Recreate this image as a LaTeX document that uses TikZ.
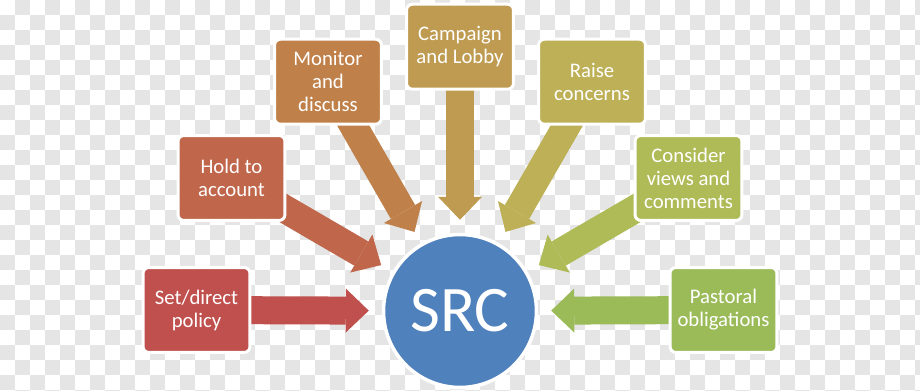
\documentclass[tikz,border=0pt]{standalone}
\usepackage{fontspec}
\setmainfont{Carlito}
\usepackage{tikz}
\usetikzlibrary{arrows.meta}
\definecolor{boardgrey}{RGB}{229,229,229}
\definecolor{srcblue}{RGB}{79,129,189}
\definecolor{setred}{RGB}{192,80,77}
\definecolor{holdrust}{RGB}{192,102,75}
\definecolor{monitororange}{RGB}{192,128,74}
\definecolor{campaigngold}{RGB}{190,155,80}
\definecolor{raiseolive}{RGB}{190,176,86}
\definecolor{considerlime}{RGB}{174,187,86}
\definecolor{pastoralgreen}{RGB}{155,187,89}
\pgfdeclarelayer{board}
\pgfdeclarelayer{links}
\pgfsetlayers{board,links,main}

\begin{document}
\begin{tikzpicture}[x=0.02cm, y=-0.02cm,
  box/.style={rectangle, draw=white, line width=0.06cm, rounded corners=0.12cm, minimum width=2.14cm, minimum height=1.7cm, align=center, text=white, font=\fontsize{11.8}{13.1}\selectfont},
  hub/.style={circle, draw=white, line width=0.07cm, fill=srcblue, minimum size=3.06cm, text=white, font=\fontsize{37}{40}\selectfont},
  feed/.style={line width=0.56cm, -{Triangle[length=0.46cm, width=0.88cm, line width=0pt]}, shorten >=0.26cm}
]
\useasboundingbox (0,0) rectangle (920,391);

% checkered backdrop
\begin{pgfonlayer}{board}
\fill[white] (0,0) rectangle (920,391);
\begin{scope}
\clip (0,0) rectangle (920,391);
\foreach \i in {0,...,61}{
  \foreach \j in {0,...,26}{
    \ifodd\numexpr\i+\j\relax
      \fill[boardgrey] (15*\i,15*\j) rectangle ++(15,15);
    \fi
  }
}
\end{scope}
\end{pgfonlayer}

\node[hub] (src) at (460,311) {SRC};

\node[box, fill=setred] (setpolicy) at (196.5,310) {Set/direct\\policy};
\node[box, fill=holdrust] (hold) at (231.5,178) {Hold to\\account};
\node[box, fill=monitororange] (monitor) at (328,81.7) {Monitor\\and\\discuss};
\node[box, fill=campaigngold] (campaign) at (460,46.7) {Campaign\\and Lobby};
\node[box, fill=raiseolive] (raise) at (592,81.7) {Raise\\concerns};
\node[box, fill=considerlime] (consider) at (688.5,178) {Consider\\views and\\comments};
\node[box, fill=pastoralgreen] (pastoral) at (723.5,310) {Pastoral\\obligations};

\begin{pgfonlayer}{links}
\draw[feed, setred] (setpolicy.center) -- (src);
\draw[feed, holdrust] (hold.center) -- (src);
\draw[feed, monitororange] (monitor.center) -- (src);
\draw[feed, campaigngold] (campaign.center) -- (src);
\draw[feed, raiseolive] (raise.center) -- (src);
\draw[feed, considerlime] (consider.center) -- (src);
\draw[feed, pastoralgreen] (pastoral.center) -- (src);
\end{pgfonlayer}
\end{tikzpicture}
\end{document}
